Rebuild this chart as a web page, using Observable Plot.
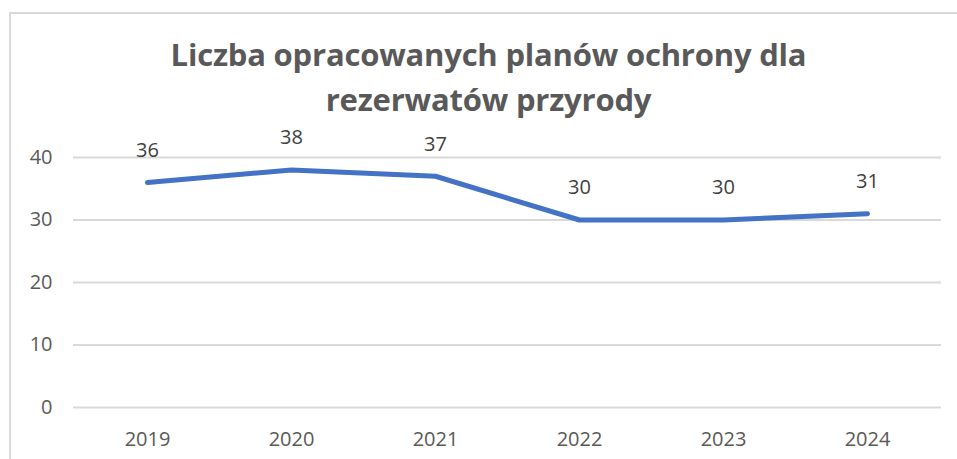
<!DOCTYPE html>
<html>
<head>
<meta charset="utf-8">
<script src="https://cdn.jsdelivr.net/npm/d3@7"></script>
<script src="https://cdn.jsdelivr.net/npm/@observablehq/plot@0.6"></script>
<style>
  html, body { margin: 0; padding: 0; background: #fff; overflow: hidden; }
  #wrap { position: relative; width: 957px; height: 459px; }
  #frame { position: absolute; left: 9px; top: 12px; width: 960px; height: 470px; border: 2px solid #d9d9d9; box-sizing: border-box; }
  #title { position: absolute; left: 0; top: 32px; width: 977px; text-align: center; font-family: "Open Sans", sans-serif; font-weight: 700; font-size: 31px; line-height: 45px; color: #595959; letter-spacing: -0.2px; }
  #chart { position: absolute; left: 0; top: 110px; }
</style>
</head>
<body>
<div id="wrap">
  <div id="frame"></div>
  <div id="title">Liczba opracowanych planów ochrony dla<br>rezerwatów przyrody</div>
  <div id="chart"></div>
</div>
<script>
const years = ["2019", "2020", "2021", "2022", "2023", "2024"];
const values = [36, 38, 37, 30, 30, 31];
const yTicks = [0, 10, 20, 30, 40];

const data = years.map((y, i) => ({year: y, value: values[i]}));

const plot = Plot.plot({
  width: 957,
  height: 349,
  marginTop: 47,
  marginBottom: 52,
  marginLeft: 73,
  marginRight: 16,
  style: {fontFamily: "Open Sans, sans-serif", fontSize: "20px", color: "#595959", background: "transparent", overflow: "visible"},
  x: {type: "point", domain: years, padding: 0.5, label: null},
  y: {domain: [0, 40], label: null},
  marks: [
    Plot.ruleY(yTicks, {stroke: "#d9d9d9", strokeWidth: 2}),
    Plot.axisY(yTicks, {tickSize: 0, tickPadding: 21, fill: "#595959", fontSize: 20, label: null}),
    Plot.axisX(years, {tickSize: 0, tickPadding: 24, fill: "#595959", fontSize: 20, label: null}),
    Plot.line(data, {x: "year", y: "value", stroke: "#4472C4", strokeWidth: 5, strokeLinecap: "round", strokeLinejoin: "round"}),
    Plot.text(data, {x: "year", y: "value", text: d => String(d.value), dy: -32, fill: "#404040", fontSize: 20})
  ]
});
document.getElementById("chart").appendChild(plot);
</script>
</body>
</html>
